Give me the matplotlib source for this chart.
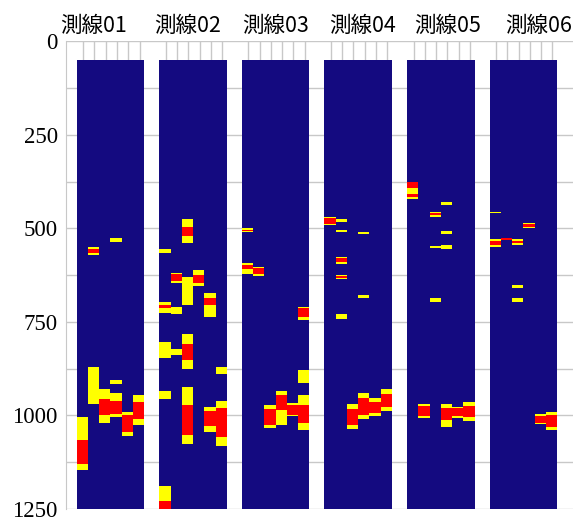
import matplotlib
matplotlib.use("Agg")
import matplotlib.pyplot as plt
import matplotlib.transforms as mtransforms

# --- 測線ごとの異常区間 (列番号, 上端, 下端) ---
line_names = ["測線01", "測線02", "測線03", "測線04", "測線05", "測線06"]

yellow_01 = [(1, 550, 572), (3, 525, 535), (1, 870, 970), (2, 930, 1020),
             (3, 905, 915), (3, 940, 1005), (4, 990, 1055), (5, 945, 1025),
             (0, 1005, 1145)]
red_01 = [(1, 556, 566), (2, 955, 1000), (3, 960, 995), (4, 1000, 1045),
          (5, 965, 1010), (0, 1065, 1130)]

yellow_02 = [(2, 475, 540), (0, 555, 565), (1, 620, 645), (2, 630, 705),
             (3, 610, 655), (4, 673, 736), (0, 698, 725), (1, 710, 730),
             (0, 803, 847), (1, 823, 838), (2, 782, 876), (5, 871, 889),
             (0, 934, 956), (2, 923, 1076), (4, 978, 1043), (5, 961, 1081),
             (0, 1188, 1250)]
red_02 = [(2, 495, 520), (1, 622, 640), (3, 625, 645), (4, 685, 705),
          (0, 705, 714), (2, 809, 852), (2, 972, 1052), (4, 987, 1028),
          (5, 981, 1057), (0, 1228, 1250)]

yellow_03 = [(0, 500, 510), (0, 593, 622), (1, 602, 627), (5, 709, 745),
             (5, 878, 914), (2, 972, 1034), (3, 935, 1025), (4, 968, 1001),
             (5, 945, 1040)]
red_03 = [(0, 503, 508), (0, 597, 609), (1, 605, 622), (5, 713, 736),
          (2, 984, 1025), (3, 945, 985), (4, 972, 999), (5, 972, 1021)]

yellow_04 = [(0, 469, 491), (1, 475, 482), (1, 504, 510), (3, 509, 515),
             (1, 577, 596), (1, 624, 635), (3, 679, 685), (1, 729, 743),
             (2, 970, 1037), (3, 939, 1010), (4, 954, 1001), (5, 930, 987)]
red_04 = [(0, 471, 487), (1, 580, 590), (1, 627, 632), (2, 984, 1025),
          (3, 952, 999), (4, 965, 994), (5, 943, 978)]

yellow_05 = [(0, 375, 420), (3, 429, 438), (2, 455, 470), (3, 508, 516),
             (2, 548, 553), (3, 545, 556), (2, 685, 696), (1, 969, 1008),
             (3, 970, 1032), (4, 977, 1008), (5, 963, 1016)]
red_05 = [(0, 377, 393), (0, 408, 415), (2, 458, 465), (1, 976, 1001),
          (3, 979, 1012), (4, 981, 1001), (5, 975, 1005)]

yellow_06 = [(0, 455, 459), (3, 485, 500), (0, 529, 549), (2, 529, 545),
             (2, 650, 659), (2, 685, 696), (4, 996, 1023), (5, 990, 1039)]
red_06 = [(3, 488, 497), (0, 533, 544), (1, 525, 530), (2, 533, 540),
          (4, 1001, 1019), (5, 999, 1030)]

yellow_all = [yellow_01, yellow_02, yellow_03, yellow_04, yellow_05, yellow_06]
red_all = [red_01, red_02, red_03, red_04, red_05, red_06]

depth_top, depth_bottom = 50, 1250
n_cols = 6
yticks = [0, 125, 250, 375, 500, 625, 750, 875, 1000, 1125, 1250]

# --- 描画 ---
navy = "#140a80"
fig = plt.figure(figsize=(5.84, 5.18), dpi=100)
ax = fig.add_axes([0.113, 0.0174, 0.868, 0.9027])

pitch = 7.33
starts = [0.95 + pitch * p for p in range(len(line_names))]

for p, x0 in enumerate(starts):
    ax.bar(x0, depth_bottom - depth_top, bottom=depth_top, width=n_cols,
           align="edge", color=navy, linewidth=0, zorder=2)
    for col, top, bot in yellow_all[p]:
        ax.bar(x0 + col, bot - top, bottom=top, width=1, align="edge",
               color="#ffff00", linewidth=0, zorder=3)
    for col, top, bot in red_all[p]:
        ax.bar(x0 + col, bot - top, bottom=top, width=1, align="edge",
               color="#ff0000", linewidth=0, zorder=4)

ax.set_xlim(0, 45.0)
ax.set_ylim(1250, 0)

# 縦のグリッド線（各列）
grid_x = [x0 + 0.58 + k for x0 in starts for k in range(n_cols)]
ax.set_xticks(grid_x)
ax.set_xticklabels([])
ax.set_yticks(yticks)
ax.set_yticklabels([str(v) if v % 250 == 0 else "" for v in yticks],
                   fontfamily="Liberation Serif", fontsize=16.5)
ax.tick_params(length=0, pad=6)
ax.grid(True, color="#c8c8c8", lw=1)
ax.set_axisbelow(True)

for side in ["top", "right", "bottom"]:
    ax.spines[side].set_visible(False)
ax.spines["left"].set_color("#c8c8c8")

# タイトル
title_x = [2.48, 10.83, 18.63, 26.35, 33.9, 41.97]
trans = mtransforms.blended_transform_factory(ax.transData, ax.transAxes)
for name, tx in zip(line_names, title_x):
    ax.text(tx, 1.034, name, transform=trans, ha="center", va="center",
            fontsize=15.5, family=["Noto Sans CJK JP", "DejaVu Sans"])

fig.savefig("out.png", dpi=100)
